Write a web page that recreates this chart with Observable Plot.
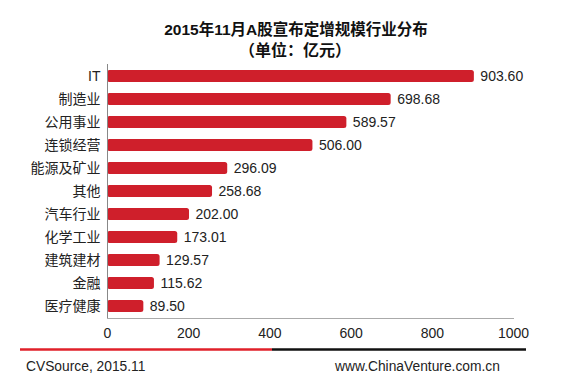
<!DOCTYPE html>
<html><head><meta charset="utf-8">
<script src="https://cdn.jsdelivr.net/npm/d3@7"></script>
<script src="https://cdn.jsdelivr.net/npm/@observablehq/plot@0.6"></script>
<style>
body{margin:0;background:#fff;}
#chart{position:relative;width:566px;height:384px;}
</style>
</head><body><div id="chart"></div>
<script>
const categories = ["IT","制造业","公用事业","连锁经营","能源及矿业","其他","汽车行业","化学工业","建筑建材","金融","医疗健康"];
const values = [903.60,698.68,589.57,506.00,296.09,258.68,202.00,173.01,129.57,115.62,89.50];
const xTicks = [0,200,400,600,800,1000];
const title = "2015年11月A股宣布定增规模行业分布";
const subtitle = "（单位：亿元）";
const source = "CVSource, 2015.11";
const site = "www.ChinaVenture.com.cn";

const data = categories.map((c,i)=>({category:c, value:values[i]}));
const font = "'Liberation Sans', Arial, 'Noto Sans CJK SC', sans-serif";

const plot = Plot.plot({
  width:566, height:384,
  marginLeft:107, marginRight:53, marginTop:64, marginBottom:66,
  style:{fontFamily:font, fontSize:"14px", color:"#222", background:"#fff"},
  x:{domain:[0,1000], ticks:xTicks, tickSize:0, tickPadding:10, label:null, tickFormat:d=>String(d)},
  y:{domain:categories, paddingInner:0.48, paddingOuter:0.2, tickSize:0, tickPadding:7, label:null},
  marks:[
    Plot.barX(data,{x:"value", y:"category", fill:"#cf1f2b", rx:2.5}),
    Plot.text(data,{x:"value", y:"category", text:d=>d.value.toFixed(2), textAnchor:"start", dx:6, fill:"#222", fontSize:14}),
    Plot.ruleX([0],{stroke:"#888"}),
    Plot.frame({anchor:"bottom", stroke:"#aaa"})
  ]
});
const svg = d3.select(plot);
svg.append("text").attr("x",296).attr("y",35).attr("text-anchor","middle")
  .attr("font-weight","bold").attr("font-size","15.5px").attr("fill","#111").text(title);
svg.append("text").attr("x",295).attr("y",56).attr("text-anchor","middle")
  .attr("font-weight","bold").attr("font-size","16px").attr("fill","#111").text(subtitle);
svg.append("line").attr("x1",20).attr("x2",272).attr("y1",349.5).attr("y2",349.5).attr("stroke","#e0202a").attr("stroke-width",2.5);
svg.append("line").attr("x1",272).attr("x2",526).attr("y1",349.5).attr("y2",349.5).attr("stroke","#111").attr("stroke-width",2.5);
svg.append("text").attr("x",26).attr("y",371).attr("text-anchor","start").attr("font-size","13.8px").attr("fill","#222").text(source);
svg.append("text").attr("x",335).attr("y",371).attr("text-anchor","start").attr("font-size","13.8px").attr("fill","#222").text(site);
document.getElementById("chart").appendChild(plot);
</script>
</body></html>
